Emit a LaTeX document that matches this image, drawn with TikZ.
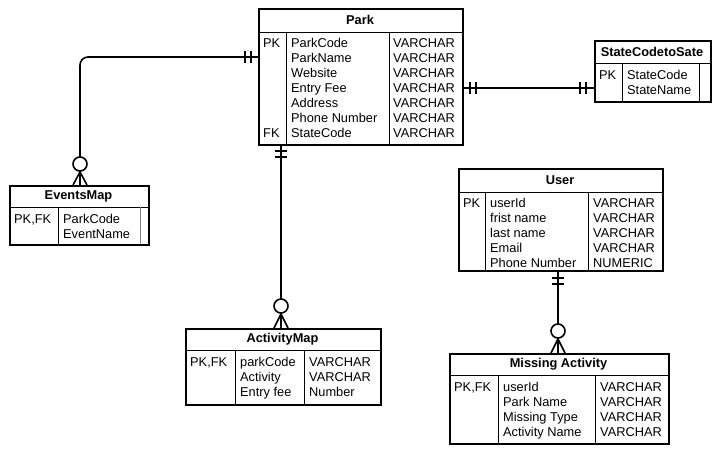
\documentclass[tikz,border=0pt]{standalone}
\usepackage{fontspec}
\setmainfont{Liberation Sans}
\begin{document}
\begin{tikzpicture}[x=1pt,y=-1pt,
  box/.style={draw, line width=1.6pt, inner sep=0pt, anchor=north west, fill=white},
  sep/.style={line width=0.9pt},
  txt/.style={anchor=base west, inner sep=0pt, font=\fontsize{12.8}{15}\selectfont},
  ttl/.style={inner sep=0pt, font=\fontsize{12.8}{15}\selectfont\bfseries},
  conn/.style={line width=1.6pt},
  zero/.style={line width=1.6pt, fill=white}]
\useasboundingbox (0,0) rectangle (719,459);

% ---------- Park ----------
\node[box, minimum width=204pt, minimum height=136pt] (park) at (258,8) {};
\draw[sep] (258,32) -- (462,32);
\draw[sep] (286,32) -- (286,144);
\draw[sep] (389,32) -- (389,144);
\node[ttl] (park-t) at (360,20) {Park};
\node[txt] (park-pk) at (263,47.5) {PK};
\node[txt] (park-fk) at (263,137.5) {FK};
\foreach \t [count=\i from 0] in {ParkCode,ParkName,Website,Entry Fee,Address,Phone Number,StateCode}
  \node[txt] (park-n\i) at (291,{47.5+15*\i}) {\t};
\foreach \i in {0,...,6}
  \node[txt] (park-y\i) at (393,{47.5+15*\i}) {VARCHAR};

% ---------- StateCodetoSate ----------
\node[box, minimum width=116pt, minimum height=61pt] (state) at (594,40) {};
\draw[sep] (594,63) -- (710,63);
\draw[sep] (622,63) -- (622,101);
\draw[sep] (699,63) -- (699,101);
\node[ttl] (state-t) at (652,51.5) {StateCodetoSate};
\node[txt] (state-pk) at (599,79.5) {PK};
\node[txt] (state-n0) at (627,79.5) {StateCode};
\node[txt] (state-n1) at (627,94.5) {StateName};

% ---------- EventsMap ----------
\node[box, minimum width=139pt, minimum height=59pt] (events) at (9,185) {};
\draw[sep] (9,207) -- (148,207);
\draw[sep] (58,207) -- (58,244);
\draw[sep, gray] (140,207) -- (140,244);
\node[ttl] (events-t) at (78.5,196) {EventsMap};
\node[txt] (events-pk) at (14,223.5) {PK,FK};
\node[txt] (events-n0) at (63,223.5) {ParkCode};
\node[txt] (events-n1) at (63,238.5) {EventName};

% ---------- User ----------
\node[box, minimum width=204pt, minimum height=102pt] (user) at (458,168) {};
\draw[sep] (458,192) -- (662,192);
\draw[sep] (485,192) -- (485,270);
\draw[sep] (588,192) -- (588,270);
\node[ttl] (user-t) at (560,180) {User};
\node[txt] (user-pk) at (463,207.5) {PK};
\foreach \t [count=\i from 0] in {userId,frist name,last name,Email,Phone Number}
  \node[txt] (user-n\i) at (490,{207.5+15*\i}) {\t};
\foreach \t [count=\i from 0] in {VARCHAR,VARCHAR,VARCHAR,VARCHAR,NUMERIC}
  \node[txt] (user-y\i) at (593,{207.5+15*\i}) {\t};

% ---------- ActivityMap ----------
\node[box, minimum width=195pt, minimum height=76pt] (activity) at (185,328) {};
\draw[sep] (185,350) -- (380,350);
\draw[sep] (235,350) -- (235,404);
\draw[sep] (304,350) -- (304,404);
\node[ttl] (activity-t) at (282.5,339) {ActivityMap};
\node[txt] (activity-pk) at (190,366.5) {PK,FK};
\foreach \t [count=\i from 0] in {parkCode,Activity,Entry fee}
  \node[txt] (activity-n\i) at (240,{366.5+15*\i}) {\t};
\foreach \t [count=\i from 0] in {VARCHAR,VARCHAR,Number}
  \node[txt] (activity-y\i) at (309,{366.5+15*\i}) {\t};

% ---------- Missing Activity ----------
\node[box, minimum width=219pt, minimum height=90pt] (missing) at (449,353) {};
\draw[sep] (449,375) -- (668,375);
\draw[sep] (498,375) -- (498,443);
\draw[sep] (595,375) -- (595,443);
\node[ttl] (missing-t) at (558.5,364) {Missing Activity};
\node[txt] (missing-pk) at (454,391.5) {PK,FK};
\foreach \t [count=\i from 0] in {userId,Park Name,Missing Type,Activity Name}
  \node[txt] (missing-n\i) at (503,{391.5+15*\i}) {\t};
\foreach \i in {0,...,3}
  \node[txt] (missing-y\i) at (600,{391.5+15*\i}) {VARCHAR};

% ---------- Connectors ----------
% Park -- EventsMap
\coordinate (c1a) at (258,57);
\coordinate (c1b) at (80,185);
\draw[conn, rounded corners=8pt] (c1a) -| (c1b);
\draw[conn] (251,51) -- (251,63) (245,51) -- (245,63);
\draw[conn] (80,172) -- (73,185) (80,172) -- (87,185);
\draw[zero] (80,164) circle (7pt);

% Park -- StateCodetoSate
\coordinate (c2a) at (462,88);
\coordinate (c2b) at (594,88);
\draw[conn] (c2a) -- (c2b);
\draw[conn] (470,82) -- (470,94) (476,82) -- (476,94);
\draw[conn] (580,82) -- (580,94) (586,82) -- (586,94);

% Park -- ActivityMap
\coordinate (c3a) at (281,144);
\coordinate (c3b) at (281,328);
\draw[conn] (c3a) -- (c3b);
\draw[conn] (275,151) -- (287,151) (275,157) -- (287,157);
\draw[conn] (281,314) -- (274,328) (281,314) -- (288,328);
\draw[zero] (281,306) circle (7pt);

% User -- Missing Activity
\coordinate (c4a) at (558,270);
\coordinate (c4b) at (558,353);
\draw[conn] (c4a) -- (c4b);
\draw[conn] (552,278) -- (564,278) (552,284) -- (564,284);
\draw[conn] (558,339) -- (551,353) (558,339) -- (565,353);
\draw[zero] (558,331) circle (7pt);
\end{tikzpicture}
\end{document}
